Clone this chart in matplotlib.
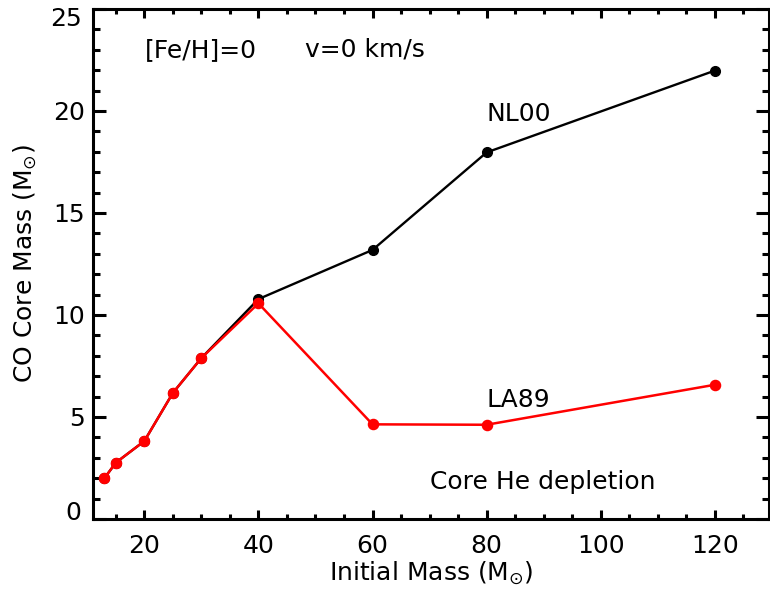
import numpy as np
import matplotlib
matplotlib.use("Agg")
import matplotlib.pyplot as plt
import matplotlib.transforms as mtransforms
from matplotlib.ticker import MultipleLocator, FixedFormatter, FixedLocator

# Initial mass (Msun) and CO core mass at core He depletion
mass = np.array([13, 15, 20, 25, 30, 40, 60, 80, 120])
co_nl00 = np.array([2.0, 2.76, 3.82, 6.18, 7.89, 10.78, 13.19, 17.97, 21.98])
co_la89 = np.array([2.0, 2.76, 3.82, 6.18, 7.89, 10.57, 4.64, 4.62, 6.58])

yticks = [0, 5, 10, 15, 20, 25]
ytick_labels = ['0', '5', '10', '15', '20', '25']

plt.rcParams['font.family'] = 'DejaVu Sans'
plt.rcParams['mathtext.fontset'] = 'dejavusans'
FS = 18

fig = plt.figure(figsize=(7.70, 5.97), dpi=100)
ax = fig.add_axes([93/770, 78/597, 676/770, 510/597])

ax.plot(mass, co_nl00, '-o', color='black', lw=1.7, ms=7)
ax.plot(mass, co_la89, '-o', color='red', lw=1.8, ms=7.3)

ax.set_xlim(11, 129.5)
ax.set_ylim(0, 25)
ax.xaxis.set_major_locator(MultipleLocator(20))
ax.xaxis.set_minor_locator(MultipleLocator(5))
ax.yaxis.set_major_locator(FixedLocator(yticks))
ax.yaxis.set_minor_locator(MultipleLocator(1))
# end labels (0 and 25) sit pulled inward, drawn separately below
ax.yaxis.set_major_formatter(FixedFormatter(['', '5', '10', '15', '20', '']))

for s in ax.spines.values():
    s.set_linewidth(2.2)
ax.tick_params(axis='both', which='both', direction='in', top=True, right=True,
               width=2.2, labelsize=FS, colors='black')
ax.tick_params(axis='x', which='major', length=6.5, pad=11)
ax.tick_params(axis='x', which='minor', length=3.5)
ax.tick_params(axis='y', which='major', length=9.5, pad=6)
ax.tick_params(axis='y', which='minor', length=5)

trans = mtransforms.blended_transform_factory(ax.transAxes, ax.transData)
for val, lab, dy in [(yticks[0], ytick_labels[0], 6), (yticks[-1], ytick_labels[-1], -10)]:
    t = mtransforms.offset_copy(trans, fig=fig, x=-6 * 100 / 72 - 3, y=dy, units='dots')
    ax.text(0, val, lab, transform=t, fontsize=FS, ha='right', va='center')

ax.set_xlabel(r'Initial Mass (M$_{\odot}$)', fontsize=FS, labelpad=1)
ax.set_ylabel(r'CO Core Mass (M$_{\odot}$)', fontsize=FS, labelpad=10)

ax.text(0.077, 0.92, '[Fe/H]=0', transform=ax.transAxes, fontsize=FS, va='center')
ax.text(0.314, 0.92, 'v=0 km/s', transform=ax.transAxes, fontsize=FS, va='center')
ax.text(80, 19.85, 'NL00', fontsize=FS, va='center')
ax.text(80, 5.83, 'LA89', fontsize=FS, va='center')
ax.text(70, 1.81, 'Core He depletion', fontsize=FS, va='center')

fig.savefig('out.png', dpi=100)
